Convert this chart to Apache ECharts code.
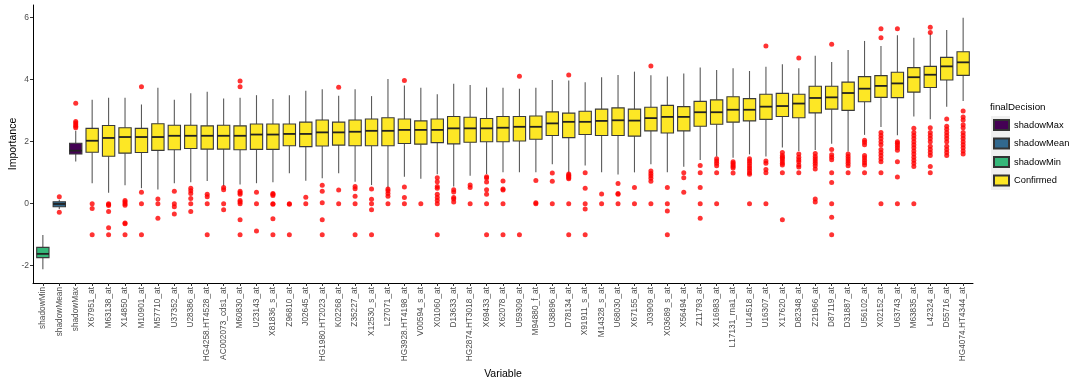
<!DOCTYPE html>
<html>
<head>
<meta charset="utf-8">
<script src="https://cdn.jsdelivr.net/npm/echarts@6/dist/echarts.min.js"></script>
<style>
html,body{margin:0;padding:0;background:#fff;}
#chart{width:1080px;height:386px;}
</style>
</head>
<body>
<div id="chart"></div>
<script>
const categories = ['shadowMin','shadowMean','shadowMax','X67951_at','M63138_at','X14850_at','M10901_at','M57710_at','U37352_at','U28386_at','HG4258.HT4528_at','AC002073_cds1_at','M60830_at','U23143_at','X81836_s_at','Z96810_at','J02645_at','HG1980.HT2023_at','K02268_at','Z35227_at','X12530_s_at','L27071_at','HG3928.HT4198_at','V00594_s_at','X01060_at','D13633_at','HG2874.HT3018_at','X69433_at','X62078_at','U59309_at','M94880_f_at','U38896_at','D78134_at','X91911_s_at','M14328_s_at','U68030_at','X67155_at','J03909_at','X03689_s_at','X56494_at','Z11793_at','X16983_at','L17131_rna1_at','U14518_at','U16307_at','X17620_at','D82348_at','Z21966_at','D87119_at','D31887_at','U56102_at','X02152_at','U63743_at','M63835_at','L42324_at','D55716_at','HG4074.HT4344_at'];

const groups = categories.map((c, i) => i === 0 ? 'shadowMin' : i === 1 ? 'shadowMean' : i === 2 ? 'shadowMax' : 'Confirmed');

const legendOrder = ['shadowMax','shadowMean','shadowMin','Confirmed'];
const groupColors = ['#440154','#31688E','#35B779','#FDE725'];

const whiskerLow = [-2.12,-0.17,1.36,0.66,0.35,0.59,0.50,0.46,0.66,0.69,0.73,0.55,0.62,0.66,0.69,0.98,0.74,0.82,0.98,0.71,0.60,0.50,0.87,0.80,0.95,0.55,0.90,0.96,1.01,1.01,1.01,1.27,0.98,1.23,1.01,0.94,1.01,1.27,1.01,1.19,1.41,1.52,1.48,1.59,1.52,1.81,1.70,1.73,1.93,1.68,2.22,2.47,2.21,2.81,2.72,3.13,3.31];
const q1 = [-1.74,-0.10,1.60,1.66,1.53,1.63,1.65,1.72,1.74,1.78,1.76,1.76,1.74,1.75,1.75,1.87,1.84,1.86,1.89,1.87,1.87,1.87,1.94,1.92,1.97,1.93,1.98,2.00,2.00,2.02,2.08,2.20,2.13,2.23,2.20,2.20,2.18,2.35,2.28,2.35,2.50,2.56,2.63,2.67,2.72,2.81,2.77,2.93,3.05,3.01,3.29,3.43,3.42,3.60,3.75,3.99,4.14];
const medians = [-1.62,-0.01,1.71,2.03,2.12,2.15,2.15,2.15,2.19,2.19,2.19,2.19,2.19,2.23,2.23,2.25,2.25,2.30,2.30,2.32,2.35,2.35,2.38,2.38,2.38,2.43,2.43,2.43,2.45,2.48,2.48,2.59,2.64,2.64,2.67,2.69,2.68,2.76,2.80,2.80,2.95,2.95,3.03,3.03,3.13,3.15,3.23,3.41,3.43,3.57,3.71,3.80,3.88,4.08,4.16,4.43,4.56];
const q3 = [-1.41,0.06,1.95,2.43,2.52,2.45,2.43,2.58,2.53,2.53,2.51,2.53,2.51,2.57,2.57,2.57,2.63,2.70,2.63,2.70,2.73,2.77,2.73,2.67,2.73,2.81,2.79,2.75,2.81,2.81,2.83,2.96,2.92,2.98,3.05,3.09,3.05,3.11,3.17,3.13,3.30,3.35,3.45,3.39,3.53,3.56,3.53,3.79,3.79,3.92,4.10,4.13,4.24,4.39,4.43,4.72,4.90];
const whiskerHigh = [-1.01,0.13,2.35,3.35,3.42,3.42,3.20,3.74,3.35,3.56,3.61,3.39,3.42,3.50,3.38,3.50,3.64,3.69,3.48,3.69,3.47,4.02,3.81,3.74,3.53,3.87,3.83,3.75,3.74,3.71,3.74,3.99,3.97,3.92,4.08,4.15,4.26,4.14,4.10,4.20,4.39,4.31,4.37,4.28,4.42,4.50,4.37,4.77,4.57,4.96,5.25,5.09,5.43,5.35,5.51,5.60,6.00];

const outliers = [
  [],
  [0.22,-0.28],
  [2.45,2.5,2.55,2.6,2.65,3.24],
  [0,-0.16,-1],
  [0,-0.03,-0.06,-0.25,-0.78,-1],
  [0.1,0.05,0,-0.05,-0.62,-0.65,-1],
  [3.77,0.37,0,-1],
  [0.15,0,-0.47],
  [0.4,0,-0.1,-0.33],
  [0.5,0.42,0.33,0.17,0,-0.25],
  [0.3,0.22,0,-1],
  [0.52,0.45,0,-0.2],
  [3.96,3.77,0.4,0.35,0.3,0.1,0.05,0,-0.52,-1],
  [0.37,0,-0.88],
  [0.33,0.3,0.26,0,-0.02,-0.49,-1],
  [0,-0.02,-1],
  [0.21,0],
  [0.59,0.4,0.03,-0.52,-1],
  [3.76,0.44,0],
  [0.55,0.48,0.24,0,-1],
  [0.47,0.14,0,-0.2,-1],
  [0.47,0.42,0.33,0.24,0],
  [3.97,0.54,0.2,0],
  [0],
  [0.84,0.71,0.55,0.5,0.3,0.2,0.1,0,-1],
  [0.45,0.38,0.2,0.15,0.05],
  [0.6,0.52,0],
  [0.87,0.83,0.7,0.45,0.3,0,-1],
  [0.73,0.47,0.44,0,-1],
  [4.11,-1],
  [0.75,0.03,0],
  [0.99,0.72,0],
  [4.15,0.96,0.92,0.88,0.84,0.8,0,-1],
  [1.0,0.5,0,-0.17,-1],
  [0.31,0],
  [0.65,0.33,0.3,0],
  [0.52,0],
  [4.44,1.05,0.97,0.9,0.82,0.72,0],
  [0.52,0,-0.24,-1],
  [1.0,0.84,0.37],
  [1.23,1.0,0.52,0,-0.47],
  [1.45,1.38,1.3,1.22,1.0,0],
  [1.35,1.3,1.25,1.2,1.15,0.99],
  [1.45,1.38,1.3,1.22,1.15,1.08,1.0,0.95,0],
  [5.09,1.38,1.3,1.1,1.0,0],
  [1.65,1.55,1.5,1.45,1.38,1.3,1.25,1.0,-0.52],
  [4.7,1.6,1.5,1.42,1.35,1.25,1.18,1.0],
  [1.62,1.52,1.45,1.38,1.3,1.22,1.12,0.15,0.05],
  [5.14,1.75,1.58,1.5,1.42,1.0,0.68,0,-0.44,-1],
  [1.6,1.52,1.45,1.38,1.3,1.22,1.0],
  [2.05,1.98,1.9,1.55,1.48,1.4,1.32,1.25,1.0],
  [5.64,5.35,2.3,2.2,2.1,2.0,1.9,1.75,1.65,1.55,1.45,1.35,1.0,0],
  [5.64,2.0,1.95,1.88,1.8,1.72,1.35,0.86,0],
  [2.43,2.3,2.2,2.1,2.0,1.9,1.8,1.7,1.6,1.5,1.4,1.3,1.2,0],
  [5.69,5.52,2.45,2.3,2.2,2.1,2.0,1.85,1.75,1.65,1.55,1.2,1.0],
  [2.73,2.5,2.4,2.3,2.2,2.1,2.0,1.85,1.75,1.65,1.55],
  [2.99,2.8,2.7,2.55,2.45,2.3,2.2,2.1,2.0,1.9,1.8,1.7,1.6]
];

const yTicks = [-2,0,2,4,6];
const xIndex = categories.map((c, i) => i);

const FONT = 'Liberation Sans, Arial, sans-serif';

function renderBox(params, api) {
  const x = api.value(0);
  const pMin = api.coord([x, api.value(1)]);
  const pQ1 = api.coord([x, api.value(2)]);
  const pMed = api.coord([x, api.value(3)]);
  const pQ3 = api.coord([x, api.value(4)]);
  const pMax = api.coord([x, api.value(5)]);
  const w = api.size([0.75, 0])[0];
  const color = api.visual('color');
  return {
    type: 'group',
    children: [
      {type: 'line', shape: {x1: pMin[0], y1: pMin[1], x2: pQ1[0], y2: pQ1[1]}, style: {stroke: '#5a5a5a', lineWidth: 1.1}},
      {type: 'line', shape: {x1: pQ3[0], y1: pQ3[1], x2: pMax[0], y2: pMax[1]}, style: {stroke: '#5a5a5a', lineWidth: 1.1}},
      {type: 'rect', shape: {x: pQ1[0] - w / 2, y: pQ3[1], width: w, height: pQ1[1] - pQ3[1]}, style: {fill: color, stroke: '#3a3a3a', lineWidth: 1.1}},
      {type: 'line', shape: {x1: pMed[0] - w / 2, y1: pMed[1], x2: pMed[0] + w / 2, y2: pMed[1]}, style: {stroke: '#222', lineWidth: 1.8}}
    ]
  };
}

const boxSeries = legendOrder.map((g, gi) => ({
  name: g,
  type: 'custom',
  renderItem: renderBox,
  itemStyle: {color: groupColors[gi], borderColor: '#333', borderWidth: 0.8},
  encode: {x: 0, y: [1, 2, 3, 4, 5]},
  data: categories.map((c, i) => i).filter(i => groups[i] === g)
    .map(i => [i, whiskerLow[i], q1[i], medians[i], q3[i], whiskerHigh[i]]),
  z: 2
}));

const outlierData = [];
outliers.forEach((arr, i) => arr.forEach(v => outlierData.push([i, v])));

const chart = echarts.init(document.getElementById('chart'), null, {renderer: 'canvas'});
chart.setOption({
  animation: false,
  backgroundColor: '#ffffff',
  textStyle: {fontFamily: FONT},
  title: {
    text: 'finalDecision', left: 985, top: 97,
    textStyle: {fontSize: 9.8, fontWeight: 'normal', color: '#000', fontFamily: FONT}
  },
  legend: {
    data: legendOrder,
    orient: 'vertical',
    left: 988, top: 114,
    itemWidth: 15, itemHeight: 10, itemGap: 6.5,
    icon: 'rect',
    textStyle: {fontSize: 9.3, color: '#000', fontFamily: FONT},
    selectedMode: false
  },
  graphic: [{
    type: 'rect', left: 991, top: 116, z: -1,
    shape: {width: 19, height: 74},
    style: {fill: '#F0F0F0'}
  }],
  grid: {left: 33, right: 107, top: 5, bottom: 103, containLabel: false, outerBoundsMode: 'none'},
  xAxis: {
    type: 'value',
    min: -0.6, max: 56.6,
    name: 'Variable', nameLocation: 'middle', nameGap: 86, nameMoveOverlap: false,
    nameTextStyle: {fontSize: 10.5, color: '#000', fontFamily: FONT},
    axisLine: {show: true, onZero: false, lineStyle: {color: '#000', width: 1}},
    axisTick: {show: true, length: 3, lineStyle: {color: '#333'}, customValues: xIndex},
    axisLabel: {
      rotate: 90, fontSize: 8.3, color: '#4D4D4D', margin: 4, fontFamily: FONT,
      customValues: xIndex,
      formatter: v => categories[Math.round(v)]
    },
    splitLine: {show: false}
  },
  yAxis: {
    type: 'value',
    min: -2.56, max: 6.41,
    name: 'Importance', nameLocation: 'middle', nameGap: 14, nameMoveOverlap: false,
    nameTextStyle: {fontSize: 10.5, color: '#000', fontFamily: FONT},
    axisLine: {show: true, onZero: false, lineStyle: {color: '#000', width: 1}},
    axisTick: {show: true, length: 3, lineStyle: {color: '#333'}, customValues: yTicks},
    axisLabel: {fontSize: 8.5, color: '#4D4D4D', margin: 4, fontFamily: FONT, customValues: yTicks},
    splitLine: {show: false}
  },
  series: boxSeries.concat([{
    name: 'outliers',
    type: 'scatter',
    data: outlierData,
    symbol: 'circle',
    symbolSize: 5,
    itemStyle: {color: '#FF0000'},
    z: 3
  }])
});
</script>
</body>
</html>
